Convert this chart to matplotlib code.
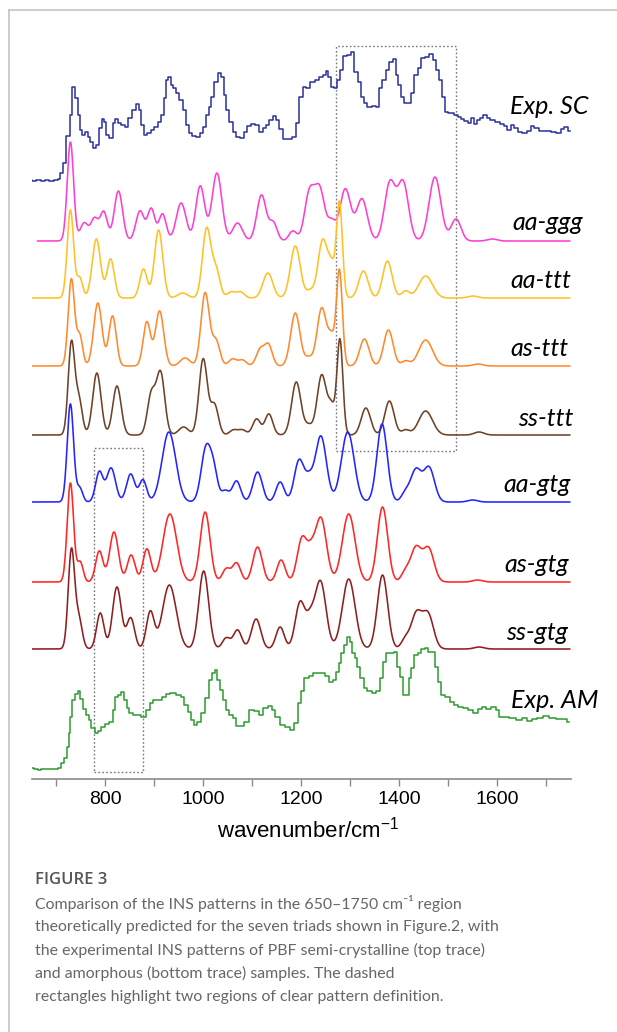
import matplotlib
matplotlib.use("Agg")
import matplotlib.pyplot as plt
import numpy as np
from matplotlib.lines import Line2D
from matplotlib.patches import Rectangle

plt.rcParams["mathtext.fontset"] = "custom"
plt.rcParams["mathtext.rm"] = "Liberation Sans"

# experimental INS traces, (wavenumber, intensity) histogram steps
exp_sc = [(646, 0), (655, -1), (664, 0), (672, -1), (681, 0), (690, -1), (699, 0), (707, 1),
          (710, 7), (717, 17), (724, 44), (731, 65), (735, 93), (741, 82), (746, 65), (751, 50),
          (756, 45), (761, 48), (767, 43), (771, 38), (778, 32), (785, 35), (790, 52), (795, 61),
          (799, 58), (805, 45), (812, 42), (818, 57), (822, 61), (829, 57), (836, 55), (843, 53),
          (850, 62), (860, 70), (866, 76), (871, 70), (877, 55), (882, 45), (890, 47), (897, 50),
          (904, 53), (911, 58), (917, 65), (922, 82), (926, 100), (931, 103), (937, 95), (941, 92),
          (948, 87), (955, 80), (962, 70), (968, 55), (973, 47), (980, 44), (989, 43), (996, 47),
          (1002, 53), (1009, 65), (1014, 73), (1019, 83), (1026, 98), (1033, 107), (1040, 103),
          (1045, 85), (1050, 70), (1057, 58), (1064, 48), (1070, 43), (1079, 42), (1086, 48),
          (1093, 54), (1101, 56), (1111, 55), (1118, 48), (1125, 52), (1132, 55), (1138, 60),
          (1145, 64), (1152, 60), (1159, 51), (1166, 41), (1176, 41), (1186, 43), (1193, 57),
          (1200, 83), (1206, 93), (1213, 92), (1223, 98), (1233, 100), (1240, 103), (1247, 105),
          (1253, 109), (1257, 103), (1263, 93), (1271, 92), (1276, 100), (1281, 110), (1288, 124),
          (1297, 125), (1305, 128), (1312, 108), (1319, 98), (1325, 83), (1331, 77), (1339, 73),
          (1349, 74), (1356, 73), (1361, 92), (1369, 100), (1376, 110), (1383, 118), (1390, 121),
          (1395, 105), (1400, 95), (1407, 83), (1412, 77), (1420, 77), (1427, 87), (1434, 105),
          (1441, 112), (1448, 122), (1458, 123), (1465, 126), (1471, 120), (1478, 110), (1485, 100),
          (1490, 83), (1495, 68), (1506, 67), (1516, 65), (1522, 63), (1529, 61), (1536, 59),
          (1543, 57), (1550, 62), (1555, 56), (1562, 60), (1569, 62), (1575, 65), (1582, 62),
          (1590, 60), (1601, 58), (1611, 56), (1618, 54), (1624, 50), (1631, 55), (1638, 52),
          (1645, 48), (1655, 47), (1665, 49), (1672, 54), (1680, 52), (1689, 49), (1702, 49),
          (1716, 48), (1726, 47), (1733, 51), (1740, 53), (1748, 49)]

exp_am = [(651, 1), (659, 0), (666, -1), (673, 0), (686, 0), (700, 0), (707, 1), (714, 6),
          (719, 11), (724, 22), (727, 36), (731, 52), (735, 69), (741, 75), (746, 78), (751, 70),
          (758, 60), (765, 54), (769, 49), (775, 41), (782, 36), (788, 38), (795, 42), (803, 45),
          (812, 47), (818, 59), (822, 72), (829, 74), (836, 77), (841, 69), (846, 61), (853, 56),
          (862, 54), (870, 54), (878, 52), (887, 59), (894, 66), (901, 69), (911, 69), (919, 72),
          (928, 75), (938, 76), (950, 74), (958, 72), (965, 64), (972, 57), (979, 49), (984, 44),
          (992, 47), (1000, 56), (1009, 71), (1016, 89), (1021, 96), (1026, 99), (1031, 89),
          (1037, 79), (1043, 69), (1050, 59), (1057, 54), (1064, 51), (1070, 43), (1079, 43),
          (1088, 47), (1098, 59), (1108, 58), (1118, 54), (1128, 61), (1136, 63), (1143, 59),
          (1152, 52), (1162, 44), (1172, 42), (1181, 39), (1189, 46), (1196, 66), (1203, 78),
          (1210, 91), (1220, 93), (1230, 96), (1244, 96), (1254, 93), (1261, 87), (1268, 89),
          (1274, 97), (1279, 106), (1284, 116), (1291, 124), (1297, 132), (1302, 127), (1306, 116),
          (1312, 111), (1317, 102), (1324, 91), (1331, 81), (1339, 78), (1349, 76), (1358, 78),
          (1363, 91), (1369, 107), (1376, 116), (1386, 116), (1393, 117), (1398, 102), (1404, 92),
          (1410, 74), (1417, 74), (1422, 91), (1427, 101), (1434, 114), (1442, 116), (1449, 120),
          (1456, 121), (1463, 117), (1471, 117), (1476, 102), (1482, 87), (1488, 74), (1499, 72),
          (1508, 67), (1516, 64), (1526, 62), (1536, 61), (1546, 59), (1556, 56), (1566, 60),
          (1573, 62), (1582, 60), (1594, 62), (1601, 59), (1608, 52), (1618, 52), (1631, 51),
          (1645, 49), (1655, 51), (1665, 48), (1675, 50), (1686, 51), (1699, 53), (1713, 51),
          (1726, 50), (1736, 50), (1747, 47)]

# calculated bands for each triad: (centre cm-1, height, gaussian sigma cm-1)
aa_ggg = [(729, 99, 6.5), (757, 18, 8), (778, 22, 7.5), (797, 29, 7.5), (827, 50, 8.5),
          (871, 30, 8.5), (894, 32, 7.5), (917, 27, 7.5), (955, 38, 10), (994, 55, 9),
          (1028, 68, 10), (1070, 18, 10), (1119, 46, 9.5), (1143, 18, 8), (1183, 10, 8),
          (1217, 48, 10), (1238, 50, 10), (1262, 18, 8), (1290, 52, 11), (1324, 42, 11),
          (1381, 58, 11), (1408, 58, 11), (1473, 64, 12), (1516, 22, 10), (1590, 2, 10)]
aa_ttt = [(729, 88, 6.5), (748, 20, 6), (782, 59, 8.5), (811, 39, 7.5), (878, 29, 7.5),
          (909, 68, 8.5), (958, 5, 10), (1007, 69, 8.5), (1026, 28, 8), (1057, 6, 8),
          (1076, 6, 8), (1132, 25, 10), (1188, 52, 10), (1218, 7, 8), (1244, 58, 9.5),
          (1262, 28, 7), (1278, 95, 6), (1327, 27, 9.5), (1376, 37, 9.5), (1413, 7, 8),
          (1454, 22, 14), (1550, 2, 10)]
as_ttt = [(731, 87, 6.5), (748, 30, 6), (785, 63, 8.5), (815, 50, 7.5), (885, 44, 7.5),
          (911, 55, 8.5), (963, 8, 10), (1004, 73, 8.5), (1026, 25, 8), (1060, 7, 8),
          (1080, 6, 8), (1116, 16, 8), (1133, 21, 8), (1188, 53, 9.5), (1215, 8, 8),
          (1242, 58, 9.5), (1262, 26, 7), (1278, 95, 6), (1329, 27, 9.5), (1378, 36, 9.5),
          (1413, 5, 8), (1454, 26, 14), (1561, 2, 10)]
ss_ttt = [(731, 91, 6.5), (746, 36, 7), (783, 62, 8.5), (824, 49, 8.5), (894, 40, 8),
          (913, 62, 8.5), (960, 8, 10), (1000, 76, 8.5), (1023, 30, 8), (1062, 5, 8),
          (1080, 5, 8), (1109, 16, 8), (1134, 21, 8), (1190, 53, 9.5), (1215, 9, 8),
          (1242, 60, 9.5), (1262, 26, 7), (1279, 95, 6), (1332, 27, 9.5), (1380, 34, 9.5),
          (1413, 5, 8), (1454, 24, 14), (1563, 3, 10)]
aa_gtg = [(729, 98, 6.5), (748, 14, 6), (788, 30, 7.5), (812, 34, 9), (852, 28, 8.5),
          (877, 22, 7.5), (930, 70, 14), (1006, 54, 10), (1022, 26, 8), (1045, 11, 8),
          (1068, 21, 8.5), (1111, 30, 9.5), (1157, 20, 8.5), (1196, 42, 10), (1216, 18, 8),
          (1240, 66, 11.5), (1295, 70, 13), (1365, 78, 10.5), (1412, 8, 8), (1434, 32, 11),
          (1461, 34, 11), (1550, 2, 10)]
as_gtg = [(729, 99, 6.5), (749, 20, 6), (788, 31, 7.5), (818, 50, 9), (853, 27, 8),
          (885, 33, 8), (932, 68, 14), (1004, 70, 10), (1047, 13, 8), (1068, 19, 8.5),
          (1111, 35, 9.5), (1159, 22, 8.5), (1202, 44, 10), (1220, 20, 8), (1240, 64, 11.5),
          (1297, 68, 13), (1366, 75, 10.5), (1412, 9, 8), (1434, 34, 11), (1460, 33, 11),
          (1560, 2, 10)]
ss_gtg = [(731, 98, 6.5), (746, 30, 7), (790, 36, 7.5), (824, 62, 9), (852, 31, 8),
          (892, 37, 8), (931, 64, 14), (1001, 78, 10), (1047, 11, 8), (1070, 19, 8.5),
          (1108, 30, 9.5), (1157, 22, 8.5), (1198, 47, 10), (1218, 22, 8), (1239, 68, 11.5),
          (1297, 70, 13), (1366, 74, 10.5), (1412, 9, 8), (1435, 35, 11), (1459, 34, 11),
          (1563, 2, 10)]

calc_names = ["aa-ggg", "aa-ttt", "as-ttt", "ss-ttt", "aa-gtg", "as-gtg", "ss-gtg"]
calc_bands = [aa_ggg, aa_ttt, as_ttt, ss_ttt, aa_gtg, as_gtg, ss_gtg]
calc_offsets = [538, 481, 413, 344, 277, 197, 130]
calc_colors = ["#FF3FD2", "#FFC125", "#FF8A2E", "#6E4226", "#2424FF", "#FF2626", "#8E1F1F"]
calc_start = [662, 650, 650, 650, 650, 650, 650]
calc_label_xy = [(1704, 556), (1688, 499), (1686, 431), (1698, 361),
                 (1682, 294), (1680, 214), (1682, 146)]

exp_names = ["Exp. SC", "Exp. AM"]
exp_data = [exp_sc, exp_am]
exp_offsets = [599, 10]
exp_colors = ["#2B309B", "#2E9A2E"]
exp_label_xy = [(1706, 672), (1718, 79)]

# dashed boxes: (x0, y0, x1, y1)
boxes = [(1271, 328, 1516, 733), (778, 7, 877, 331)]

W, H = 617, 1032
fig = plt.figure(figsize=(W / 100, H / 100), dpi=100)
ax = fig.add_axes([31.7 / W, 253 / H, 539 / W, 759 / H])
ax.set_xlim(650, 1750)
ax.set_ylim(0, 759)

label_font = dict(family="Lato", style="italic", fontsize=18, ha="center", va="center")

for data, off, col, name, (lx, ly) in zip(exp_data, exp_offsets, exp_colors, exp_names, exp_label_xy):
    arr = np.array(data, dtype=float)
    ax.plot(arr[:, 0], arr[:, 1] + off, color=col, lw=1.1, drawstyle="steps-mid")
    ax.text(lx, ly, name, **label_font)

for bands, off, col, name, x0, (lx, ly) in zip(calc_bands, calc_offsets, calc_colors,
                                              calc_names, calc_start, calc_label_xy):
    wn = np.arange(x0, 1748.5, 1.0)
    b = np.array(bands, dtype=float)
    y = (b[:, 1] * np.exp(-0.5 * ((wn[:, None] - b[:, 0]) / b[:, 2]) ** 2)).sum(axis=1)
    ax.plot(wn, y + off, color=col, lw=1.15)
    ax.text(lx, ly, name, **label_font)

for x0, y0, x1, y1 in boxes:
    ax.add_patch(Rectangle((x0, y0), x1 - x0, y1 - y0, fill=False, ec="#777777",
                           lw=1.0, ls=(0, (1.2, 1.6))))

for s in ["top", "left", "right"]:
    ax.spines[s].set_visible(False)
ax.spines["bottom"].set_color("#8a8a8a")
ax.spines["bottom"].set_linewidth(1.2)
ax.set_yticks([])
ax.set_xticks([800, 1000, 1200, 1400, 1600])
ax.set_xticks([700, 900, 1100, 1300, 1500, 1700], minor=True)
ax.tick_params(axis="x", which="both", direction="out", length=5, width=1.0,
               color="#8a8a8a", labelsize=14, pad=4)
for t in ax.get_xticklabels():
    t.set_family("Liberation Sans")

fig.text(308 / W, 1 - 830 / H, "wavenumber/cm$^{-1}$", ha="center", va="center",
         fontsize=16, family="Liberation Sans")

# caption
fig.text(35 / W, 1 - 880 / H, "FIGURE 3", ha="left", va="center", fontsize=12,
         family="Open Sans", weight="semibold", color="#555555")
caption = ["Comparison of the INS patterns in the 650\u20131750 cm\u207b\u00b9 region",
           "theoretically predicted for the seven triads shown in Figure.2, with",
           "the experimental INS patterns of PBF semi-crystalline (top trace)",
           "and amorphous (bottom trace) samples. The dashed",
           "rectangles highlight two regions of clear pattern definition."]
for i, line in enumerate(caption):
    fig.text(35 / W, 1 - (904 + 23.2 * i) / H, line, ha="left", va="center", fontsize=11.45,
             family=["Lato", "DejaVu Sans"], color="#666666")

# page frame
fig.add_artist(Line2D([9 / W, 1], [1 - 9.5 / H, 1 - 9.5 / H], color="#c4c4c4", lw=1.2))
fig.add_artist(Line2D([9 / W, 9 / W], [0, 1 - 9.5 / H], color="#c4c4c4", lw=1.2))

fig.savefig("out.png", dpi=100)
